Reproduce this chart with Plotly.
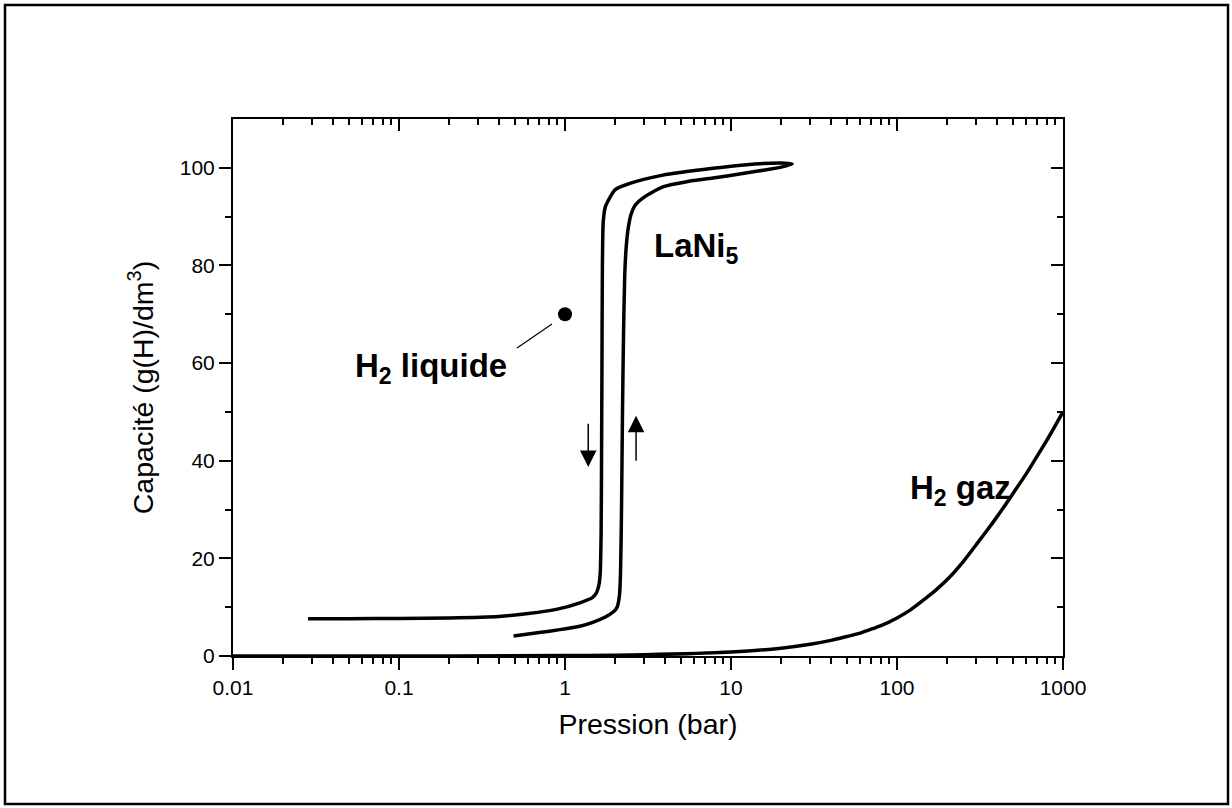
import plotly.graph_objects as go
import numpy as np

# ---- data ----
# LaNi5 isotherm: absorption branch (inner/right) then desorption branch (outer/left)
abs_p = [0.49, 0.7, 0.93, 1.23, 1.47, 1.75, 1.95, 2.06, 2.13, 2.16, 2.19, 2.22, 2.25, 2.29, 2.34, 2.40, 2.5, 2.64, 3.0, 3.89, 5.5, 7.8, 12, 17, 21, 23.4]
abs_c = [4.1, 4.8, 5.4, 6.1, 6.9, 8.0, 9.0, 10.0, 12.5, 17, 30, 50, 65, 78, 84, 87.5, 90.5, 92.3, 94.0, 96.1, 97.2, 97.9, 98.9, 99.7, 100.3, 100.8]
des_p = [23.4, 19.7, 12, 7.8, 3.89, 2.46, 2.0, 1.87, 1.75, 1.70, 1.68, 1.67, 1.66, 1.65, 1.63, 1.60, 1.55, 1.47, 1.23, 0.9, 0.6, 0.4, 0.2, 0.1, 0.05, 0.0283]
des_c = [100.8, 101.0, 100.6, 99.9, 98.5, 96.8, 95.5, 94.0, 92.0, 89.0, 80, 60, 40, 25, 17, 14.5, 13.0, 12.0, 10.9, 9.6, 8.7, 8.1, 7.8, 7.7, 7.65, 7.65]

# Compressed H2 gas
gas_p = [0.01, 0.1, 1, 3, 10, 20, 30, 40, 50, 60, 70, 80, 100, 120, 150, 170, 200, 250, 300, 350, 400, 450, 500, 600, 700, 800, 1000]
gas_c = [0.0, 0.01, 0.08, 0.25, 0.8, 1.6, 2.4, 3.2, 4.0, 4.7, 5.5, 6.2, 7.8, 9.4, 11.9, 13.4, 15.6, 19.3, 22.8, 25.8, 28.5, 31.0, 33.3, 37.3, 41.0, 44.2, 50.0]

# Liquid H2 point
liq_p = [1.0]
liq_c = [70.0]

# leader line for the liquid label
lead_p = [0.514, 0.835]
lead_c = [63.1, 68.0]

x_tickvals = [0.01, 0.1, 1, 10, 100, 1000]
x_ticktext = ["0.01", "0.1", "1", "10", "100", "1000"]
x_minor = [m * 10.0 ** d for d in range(-2, 3) for m in range(2, 10)]
y_tickvals = [0, 20, 40, 60, 80, 100]
y_minor = [10, 30, 50, 70, 90]

FONT = "Liberation Sans, Arial, Helvetica, sans-serif"
LW = 3.5

fig = go.Figure()
fig.add_trace(go.Scatter(x=abs_p + des_p[1:], y=abs_c + des_c[1:], mode="lines",
                         line=dict(color="black", width=LW, shape="spline", smoothing=0.6),
                         hoverinfo="skip", showlegend=False))
fig.add_trace(go.Scatter(x=gas_p, y=gas_c, mode="lines",
                         line=dict(color="black", width=LW, shape="spline", smoothing=1.0),
                         hoverinfo="skip", showlegend=False))
fig.add_trace(go.Scatter(x=lead_p, y=lead_c, mode="lines",
                         line=dict(color="black", width=1.2),
                         hoverinfo="skip", showlegend=False))
fig.add_trace(go.Scatter(x=liq_p, y=liq_c, mode="markers",
                         marker=dict(color="black", size=14),
                         hoverinfo="skip", showlegend=False))
# empty trace to bring mirrored axes to life
fig.add_trace(go.Scatter(x=[None], y=[None], xaxis="x2", yaxis="y2",
                         hoverinfo="skip", showlegend=False))

axis_common = dict(showline=True, linecolor="black", linewidth=2, showgrid=False,
                   zeroline=False, tickcolor="black", tickwidth=2)

fig.update_layout(
    width=1232, height=808,
    margin=dict(l=233, r=169, t=119, b=152),
    paper_bgcolor="white", plot_bgcolor="white",
    font=dict(family=FONT, color="black"),
    xaxis=dict(type="log", range=[-2, 3], ticks="outside", ticklen=12,
               tickmode="array", tickvals=x_tickvals, ticktext=x_ticktext,
               tickfont=dict(size=21, family=FONT),
               minor=dict(tickmode="array", tickvals=x_minor, ticks="outside",
                          ticklen=6, tickwidth=2, tickcolor="black", showgrid=False),
               title=dict(text="Pression (bar)", font=dict(size=28.5, family=FONT), standoff=16),
               **axis_common),
    yaxis=dict(range=[0, 110], ticks="outside", ticklen=12,
               tickmode="array", tickvals=y_tickvals,
               tickfont=dict(size=21, family=FONT),
               minor=dict(tickmode="array", tickvals=y_minor, ticks="outside",
                          ticklen=6, tickwidth=2, tickcolor="black", showgrid=False),
               title=dict(text="Capacité (g(H)/dm<sup>3</sup>)", font=dict(size=28.5, family=FONT), standoff=18),
               **axis_common),
    xaxis2=dict(type="log", range=[-2, 3], overlaying="x", side="top", anchor="y",
                ticks="inside", ticklen=12, tickmode="array", tickvals=x_tickvals,
                showticklabels=False,
                minor=dict(tickmode="array", tickvals=x_minor, ticks="inside",
                           ticklen=6, tickwidth=2, tickcolor="black", showgrid=False),
                **axis_common),
    yaxis2=dict(range=[0, 110], overlaying="y", side="right", anchor="x",
                ticks="inside", ticklen=12, tickmode="array", tickvals=y_tickvals,
                showticklabels=False,
                minor=dict(tickmode="array", tickvals=y_minor, ticks="inside",
                           ticklen=6, tickwidth=2, tickcolor="black", showgrid=False),
                **axis_common),
    showlegend=False,
)

# outer frame around the whole figure
fig.add_shape(type="rect", xref="paper", yref="paper",
              x0=(5 - 233) / 830, x1=(1228 - 233) / 830,
              y0=(656 - 804) / 537, y1=(656 - 5) / 537,
              line=dict(color="black", width=2.5), fillcolor="rgba(0,0,0,0)", layer="below")

lab_font = dict(family=FONT, size=33, color="black")
fig.add_annotation(x=0.524, y=83.6, xref="x", yref="y", text="<b>LaNi<sub>5</sub></b>",
                   showarrow=False, xanchor="left", yanchor="middle", font=lab_font)
fig.add_annotation(x=np.log10(0.053), y=59.0, xref="x", yref="y", text="<b>H<sub>2</sub> liquide</b>",
                   showarrow=False, xanchor="left", yanchor="middle", font=lab_font)
fig.add_annotation(x=np.log10(116), y=34.0, xref="x", yref="y", text="<b>H<sub>2</sub> gaz</b>",
                   showarrow=False, xanchor="left", yanchor="middle", font=lab_font)

# direction arrows
fig.add_annotation(x=np.log10(1.38), y=38.7, ax=np.log10(1.38), ay=47.9,
                   xref="x", yref="y", axref="x", ayref="y", text="",
                   showarrow=True, arrowhead=2, arrowsize=2.2, arrowwidth=1.5, arrowcolor="black")
fig.add_annotation(x=np.log10(2.68), y=49.2, ax=np.log10(2.68), ay=39.7,
                   xref="x", yref="y", axref="x", ayref="y", text="",
                   showarrow=True, arrowhead=2, arrowsize=2.2, arrowwidth=1.5, arrowcolor="black")

fig.write_html("out.html")
